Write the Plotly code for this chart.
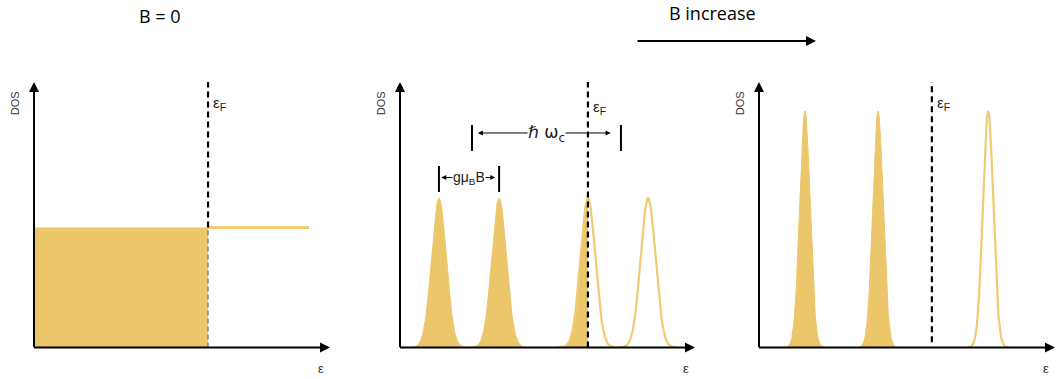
import numpy as np
import plotly.graph_objects as go

# ---------------- data ----------------
# panel 1 (B = 0): constant DOS
EF1 = 5.88
DOS1 = 4.52
EMAX1 = 9.29

# panel 2: Landau levels (spin split)
CENTERS2 = [1.32, 3.36, 6.37, 8.41]
HEIGHT2 = 5.63
SIGMA2 = 0.25
EF2 = 6.37
HW_C = [2.44, 7.49]      # hbar omega_c marker positions
GMB = [1.32, 3.36]       # g mu_B B marker positions

# panel 3: larger B
CENTERS3 = [1.55, 4.02, 7.74]
HEIGHT3 = 8.91
SIGMA3 = 0.175
EF3 = 5.84

TITLES = ["B = 0", "B increase"]

FILL = "rgb(236,198,106)"
EDGE = "rgb(240,203,115)"
W, H = 1060, 379

fig = go.Figure()

def px_x(a, b):
    return [a / W, b / W]

ydom = [1 - 347.5 / H, 1 - 82 / H]
xdoms = [px_x(34, 330), px_x(400, 695), px_x(759, 1055)]

layout = dict(width=W, height=H, margin=dict(l=0, r=0, t=0, b=0),
              plot_bgcolor="white", paper_bgcolor="white", showlegend=False)
for i, xd in enumerate(xdoms):
    s = "" if i == 0 else str(i + 1)
    layout["xaxis" + s] = dict(domain=xd, range=[0, 10], visible=False, anchor="y" + s)
    layout["yaxis" + s] = dict(domain=ydom, range=[0, 10], visible=False, anchor="x" + s)
fig.update_layout(**layout)

def gauss(c, h, s, x):
    return h * np.exp(-0.5 * ((x - c) / s) ** 2)

# ---- panel 1 ----
fig.add_trace(go.Scatter(x=[0, 0, EF1, EF1, 0], y=[0, DOS1, DOS1, 0, 0], fill="toself",
                         fillcolor=FILL, line=dict(width=0), mode="lines",
                         xaxis="x", yaxis="y", hoverinfo="skip"))
fig.add_trace(go.Scatter(x=[EF1, EMAX1], y=[DOS1, DOS1], mode="lines",
                         line=dict(color=EDGE, width=3), xaxis="x", yaxis="y"))
fig.add_trace(go.Scatter(x=[EF1, EF1], y=[0, DOS1], mode="lines",
                         line=dict(color="rgba(60,60,60,0.8)", width=1, dash="5px,3px"),
                         xaxis="x", yaxis="y"))
fig.add_trace(go.Scatter(x=[EF1, EF1], y=[DOS1, 10], mode="lines",
                         line=dict(color="black", width=2.2, dash="6px,4px"),
                         xaxis="x", yaxis="y"))

# ---- panel 2 ----
for k, c in enumerate(CENTERS2):
    xs = np.linspace(c - 4 * SIGMA2, c + 4 * SIGMA2, 200)
    ys = gauss(c, HEIGHT2, SIGMA2, xs)
    if c + 3 * SIGMA2 < EF2:
        fig.add_trace(go.Scatter(x=xs, y=ys, fill="tozeroy", fillcolor=FILL, mode="lines",
                                 line=dict(color=FILL, width=1), xaxis="x2", yaxis="y2"))
    else:
        xf = xs[xs <= EF2]
        if len(xf):
            xf = np.append(xf, EF2)
            fig.add_trace(go.Scatter(x=xf, y=gauss(c, HEIGHT2, SIGMA2, xf), fill="tozeroy",
                                     fillcolor=FILL, mode="lines", line=dict(color=FILL, width=1),
                                     xaxis="x2", yaxis="y2"))
        fig.add_trace(go.Scatter(x=xs, y=ys, mode="lines", line=dict(color=EDGE, width=2.2),
                                 xaxis="x2", yaxis="y2"))
fig.add_trace(go.Scatter(x=[EF2, EF2], y=[0, 10], mode="lines",
                         line=dict(color="black", width=2.2, dash="6px,4px"),
                         xaxis="x2", yaxis="y2"))

# ---- panel 3 ----
for c in CENTERS3:
    xs = np.linspace(c - 4 * SIGMA3, c + 4 * SIGMA3, 200)
    ys = gauss(c, HEIGHT3, SIGMA3, xs)
    if c < EF3:
        fig.add_trace(go.Scatter(x=xs, y=ys, fill="tozeroy", fillcolor=FILL, mode="lines",
                                 line=dict(color=FILL, width=1), xaxis="x3", yaxis="y3"))
    else:
        fig.add_trace(go.Scatter(x=xs, y=ys, mode="lines", line=dict(color=EDGE, width=2.2),
                                 xaxis="x3", yaxis="y3"))
fig.add_trace(go.Scatter(x=[EF3, EF3], y=[0.2, 10], mode="lines",
                         line=dict(color="black", width=2.2, dash="6px,4px"),
                         xaxis="x3", yaxis="y3"))

ann = []
shapes = []
lab_font = dict(family="Liberation Sans, Arial", size=11, color="#333")
for i, ef in enumerate([EF1, EF2, EF3]):
    s = "" if i == 0 else str(i + 1)
    xr, yr = "x" + s, "y" + s
    # axes with arrowheads
    ann.append(dict(x=0, y=10, ax=0, ay=-0.05, xref=xr, yref=yr, axref=xr, ayref=yr,
                    showarrow=True, arrowhead=2, arrowsize=1, arrowwidth=2, arrowcolor="black",
                    text=""))
    ann.append(dict(x=10, y=0, ax=-0.05, ay=0, xref=xr, yref=yr, axref=xr, ayref=yr,
                    showarrow=True, arrowhead=2, arrowsize=1, arrowwidth=2, arrowcolor="black",
                    text=""))
    # DOS label
    ann.append(dict(x=0, y=9.2, xref=xr, yref=yr, xshift=-19, text="DOS", textangle=-90,
                    showarrow=False, font=lab_font))
    # epsilon label
    ann.append(dict(x=10, y=0, xref=xr, yref=yr, xshift=-9, yshift=-21, text="ε",
                    showarrow=False, font=dict(family="Liberation Sans, Arial", size=13, color="#333")))
    # epsilon_F label
    ann.append(dict(x=ef, y=9.2 if i != 1 else 9.05, xref=xr, yref=yr, xanchor="left", xshift=3,
                    text="ε<sub>F</sub>", showarrow=False,
                    font=dict(family="Liberation Sans, Arial", size=15, color="#222")))

# hbar omega_c marker
for xv in HW_C:
    shapes.append(dict(type="line", xref="x2", yref="y2", x0=xv, x1=xv, y0=7.40, y1=8.38,
                       line=dict(color="black", width=2)))
ann.append(dict(x=HW_C[0] + 0.2, y=8.08, ax=HW_C[1] - 0.3, ay=8.08, xref="x2", yref="y2",
                axref="x2", ayref="y2", showarrow=True, arrowhead=2, arrowside="start+end",
                arrowsize=1, arrowwidth=1, arrowcolor="black", text=""))
ann.append(dict(x=(HW_C[0] + HW_C[1]) / 2, y=8.08, xref="x2", yref="y2", text="ℏ ω<sub>c</sub>",
                showarrow=False, bgcolor="white", borderpad=0, yshift=-1,
                font=dict(family="DejaVu Sans, Liberation Sans", size=17, color="#222")))

# g mu_B B marker
for xv in GMB:
    shapes.append(dict(type="line", xref="x2", yref="y2", x0=xv, x1=xv, y0=5.86, y1=6.84,
                       line=dict(color="black", width=2)))
ann.append(dict(x=GMB[0] + 0.08, y=6.40, ax=GMB[1] - 0.08, ay=6.40, xref="x2", yref="y2",
                axref="x2", ayref="y2", showarrow=True, arrowhead=2, arrowside="start+end",
                arrowsize=1, arrowwidth=1, arrowcolor="black", text=""))
ann.append(dict(x=(GMB[0] + GMB[1]) / 2, y=6.40, xref="x2", yref="y2", text="gμ<sub>B</sub>B",
                showarrow=False, bgcolor="white", borderpad=0,
                font=dict(family="Liberation Sans, Arial", size=14, color="#222")))

# titles
title_font = dict(family="Open Sans", size=18, color="black")
ann.append(dict(x=160 / W, y=1 - 16 / H, xref="paper", yref="paper", text=TITLES[0],
                xanchor="center", yanchor="middle", showarrow=False, font=title_font))
ann.append(dict(x=712 / W, y=1, xref="paper", yref="paper", text=TITLES[1], borderpad=0,
                xanchor="center", yanchor="top", showarrow=False, font=title_font))
ann.append(dict(x=816 / W, y=1 - 41 / H, ax=-180, ay=0, xref="paper", yref="paper",
                axref="pixel", ayref="pixel", showarrow=True, arrowhead=2, arrowsize=1,
                arrowwidth=2, arrowcolor="black", text=""))

fig.update_layout(annotations=ann, shapes=shapes)
fig.write_html("out.html")
